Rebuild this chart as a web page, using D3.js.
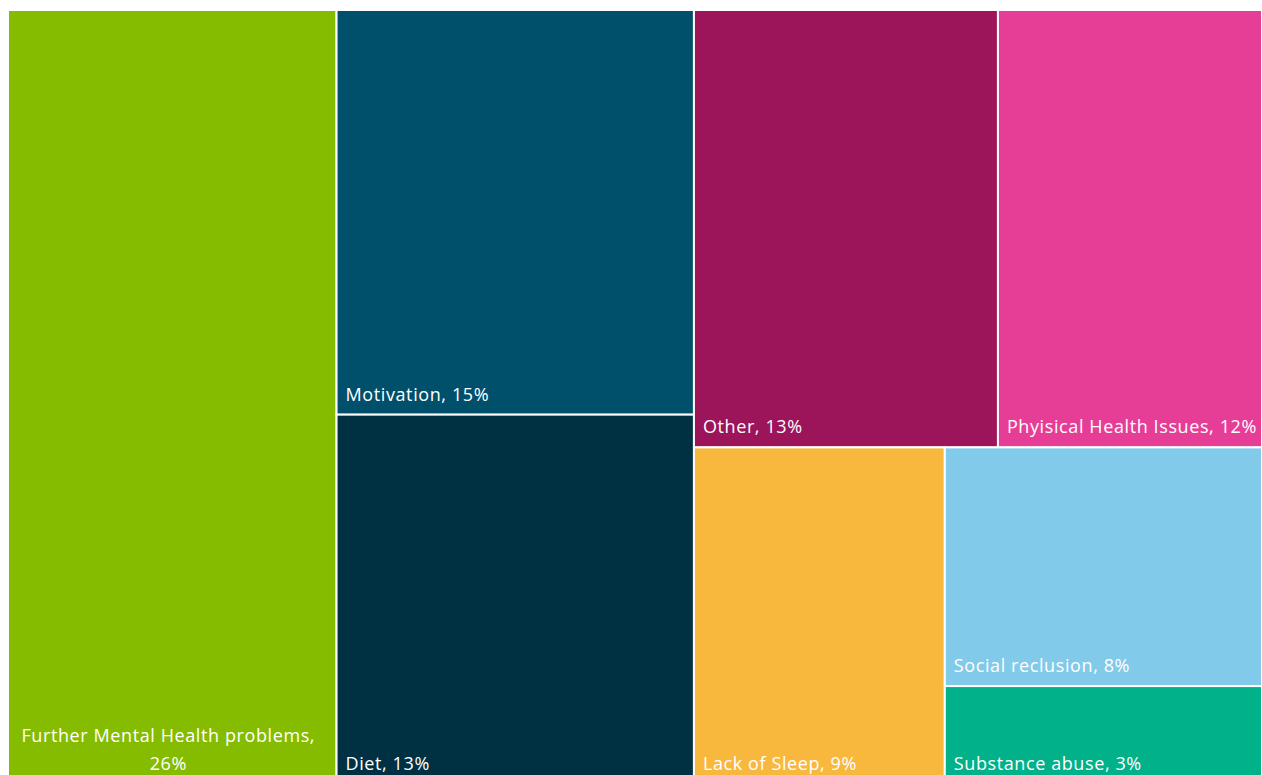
<!DOCTYPE html>
<html>
<head>
<meta charset="utf-8">
<script src="https://cdn.jsdelivr.net/npm/d3@7"></script>
<style>
    body { margin: 0; background: #fff; }
    svg { display: block; }
    .label { fill: #fff; font-family: "Open Sans", sans-serif; font-size: 18px; letter-spacing: 0.6px; }
</style>
</head>
<body>
<div id="chart"></div>
<script>
const categories = [
    "Further Mental Health problems",
    "Motivation",
    "Diet",
    "Other",
    "Phyisical Health Issues",
    "Lack of Sleep",
    "Social reclusion",
    "Substance abuse"
];
// approximate shares (sizing)
const shares = [26.2, 14.9, 13.6, 13.7, 11.9, 8.7, 7.8, 3.2];
// percentages as printed on the labels
const percents = ["26%", "15%", "13%", "13%", "12%", "9%", "8%", "3%"];
const colors = ["#86bc00", "#00506c", "#003142", "#9c1459", "#e63e97", "#f8b83e", "#82caea", "#00b189"];

const width = 1262;
const height = 775;
const margin = { top: 10, left: 8 };

// nesting of the cells the way the reference lays them out (slice/dice)
const layout = [0, [1, 2], [[3, 4], [5, [6, 7]]]];

function toNode(entry) {
    if (Array.isArray(entry)) return { children: entry.map(toNode) };
    return { index: entry, name: categories[entry], value: shares[entry] };
}

const root = d3.hierarchy(toNode(layout))
    .sum(d => d.children ? 0 : d.value);

d3.treemap()
    .tile(d3.treemapSliceDice)
    .size([1254, 774])
    (root);

const svg = d3.select("#chart")
    .append("svg")
    .attr("width", width)
    .attr("height", height);

const plot = svg.append("g")
    .attr("transform", `translate(${margin.left}, ${margin.top})`);

const cells = plot.selectAll("g.cell")
    .data(root.leaves())
    .join("g")
    .attr("class", "cell");

cells.append("rect")
    .attr("x", d => d.x0)
    .attr("y", d => d.y0)
    .attr("width", d => d.x1 - d.x0)
    .attr("height", d => d.y1 - d.y0)
    .attr("fill", d => colors[d.data.index])
    .attr("stroke", "#fff")
    .attr("stroke-width", 2);

cells.each(function (d) {
    const g = d3.select(this);
    const text = `${d.data.name}, ${percents[d.data.index]}`;
    const pad = 9;
    const label = g.append("text")
        .attr("class", "label")
        .attr("x", d.x0 + pad)
        .attr("y", d.y1 - 14)
        .text(text);

    const avail = d.x1 - d.x0 - pad - 3;
    if (label.node().getComputedTextLength() > avail) {
        // wrap to two lines and centre them
        const cx = (d.x0 + d.x1) / 2 - 4;
        label.text(null).attr("text-anchor", "middle");
        label.append("tspan").attr("x", cx).attr("y", d.y1 - 42).text(`${d.data.name},`);
        label.append("tspan").attr("x", cx).attr("y", d.y1 - 14).text(percents[d.data.index]);
    }
});
</script>
</body>
</html>
